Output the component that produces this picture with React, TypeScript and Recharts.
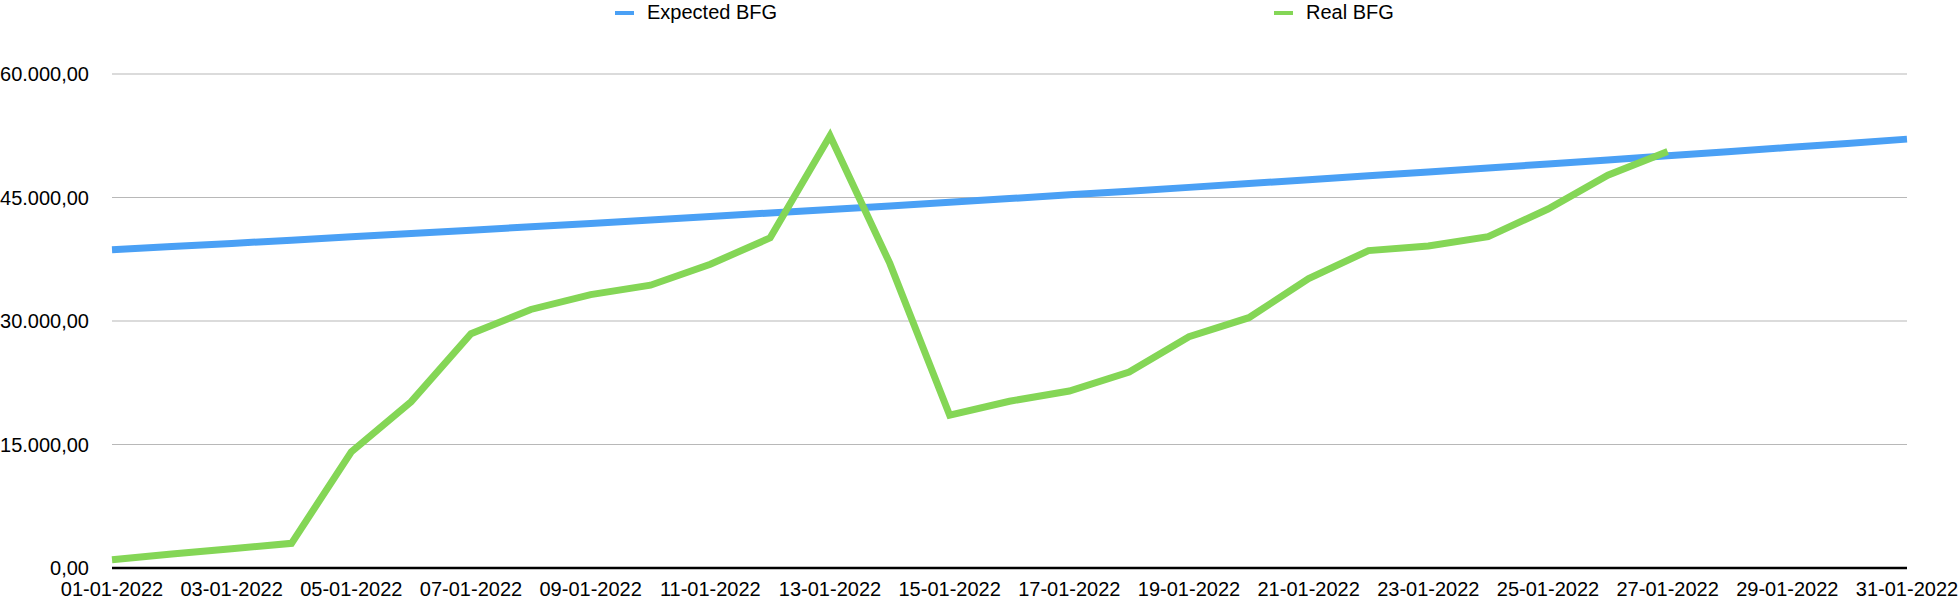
import { CartesianGrid, Legend, Line, LineChart, XAxis, YAxis } from 'recharts';

const dates = [
  '01-01-2022', '02-01-2022', '03-01-2022', '04-01-2022', '05-01-2022', '06-01-2022',
  '07-01-2022', '08-01-2022', '09-01-2022', '10-01-2022', '11-01-2022', '12-01-2022',
  '13-01-2022', '14-01-2022', '15-01-2022', '16-01-2022', '17-01-2022', '18-01-2022',
  '19-01-2022', '20-01-2022', '21-01-2022', '22-01-2022', '23-01-2022', '24-01-2022',
  '25-01-2022', '26-01-2022', '27-01-2022', '28-01-2022', '29-01-2022', '30-01-2022',
  '31-01-2022',
];

const expectedBfg = [
  38650, 39040, 39420, 39820, 40220, 40620, 41030, 41440, 41850, 42270, 42690,
  43120, 43550, 43980, 44420, 44870, 45320, 45770, 46230, 46690, 47160, 47630,
  48100, 48580, 49070, 49560, 50060, 50560, 51060, 51570, 52090,
];

const realBfg: (number | null)[] = [
  1000, 1700, 2350, 3000, 14100, 20200, 28450, 31400, 33200, 34350, 36900,
  40100, 52500, 37000, 18550, 20250, 21500, 23800, 28100, 30400, 35150, 38550,
  39100, 40250, 43600, 47700, 50600, null, null, null, null,
];

const yTicks = [0, 15000, 30000, 45000, 60000];

const data = dates.map((date, i) => ({
  date,
  expected: expectedBfg[i],
  real: realBfg[i],
}));

const FONT = '"Liberation Sans", Arial, Helvetica, sans-serif';
const BLUE = '#4aa0f5';
const GREEN = '#84d656';

// 60000 -> "60.000,00"
function fmt(v: number) {
  const [int, dec] = v.toFixed(2).split('.');
  return int.replace(/\B(?=(\d{3})+(?!\d))/g, '.') + ',' + dec;
}

const legendLeft: Record<string, number> = { expected: 615, real: 1274 };

function LegendContent({ payload }: any) {
  return (
    <div style={{ position: 'relative', width: 1960, height: 28, fontFamily: FONT, fontSize: 20 }}>
      {(payload ?? []).map((p: any) => (
        <div
          key={p.dataKey}
          style={{ position: 'absolute', left: legendLeft[p.dataKey], top: 1, display: 'flex', alignItems: 'center', whiteSpace: 'nowrap' }}
        >
          <span style={{ display: 'inline-block', width: 19, height: 4, background: p.color, marginRight: 13 }} />
          <span style={{ color: '#000' }}>{p.value}</span>
        </div>
      ))}
    </div>
  );
}

export default function App() {
  return (
    <div style={{ width: 1960, height: 600, background: '#fff' }}>
      <style>{'body{margin:0;}'}</style>
      <LineChart width={1960} height={600} data={data} margin={{ top: 74, right: 53, left: 0, bottom: 0 }}>
        <CartesianGrid vertical={false} stroke="#b8b8b8" strokeWidth={1.2} />
        <XAxis
          dataKey="date"
          interval={1}
          height={32}
          tickLine={false}
          axisLine={{ stroke: '#000', strokeWidth: 2.5 }}
          tickSize={6}
          tickMargin={8}
          tick={{ fontSize: 20, fill: '#000', fontFamily: FONT }}
        />
        <YAxis
          width={112}
          domain={[0, 60000]}
          ticks={yTicks}
          tickFormatter={fmt}
          axisLine={false}
          tickLine={false}
          tickSize={6}
          tickMargin={17}
          tick={{ fontSize: 20, fill: '#000', fontFamily: FONT }}
        />
        <Legend
          layout="horizontal"
          verticalAlign="middle"
          wrapperStyle={{ top: 0, left: 0, width: 1960 }}
          content={<LegendContent />}
        />
        <Line
          name="Expected BFG"
          dataKey="expected"
          type="linear"
          stroke={BLUE}
          strokeWidth={7}
          dot={false}
          activeDot={false}
          isAnimationActive={false}
        />
        <Line
          name="Real BFG"
          dataKey="real"
          type="linear"
          stroke={GREEN}
          strokeWidth={7}
          dot={false}
          activeDot={false}
          isAnimationActive={false}
        />
      </LineChart>
    </div>
  );
}
